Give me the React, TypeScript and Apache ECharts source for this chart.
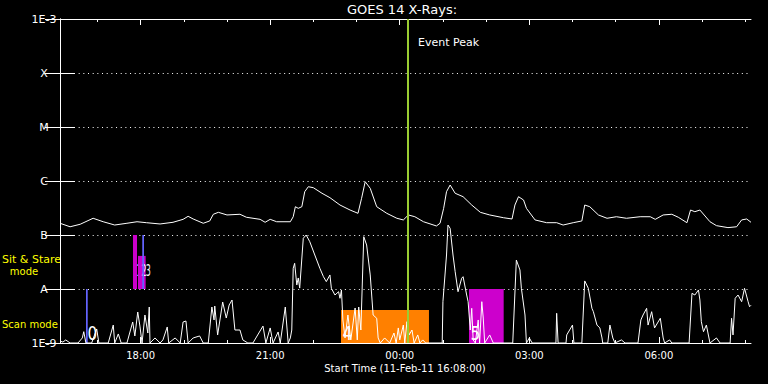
import React, { useEffect, useRef } from "react";
import * as echarts from "echarts";

// Start time 11-Feb-11 16:08:00, x values are minutes after start
const START_MIN_OF_DAY = 16 * 60 + 8;
const SPAN_MIN = 960;

const hourTicks = [52, 112, 172, 232, 292, 352, 412, 472, 532, 592, 652, 712, 772, 832, 892, 952];
const labelTicks = [112, 292, 472, 652, 832];
const fluxLevels = ["1E-9", "A", "B", "C", "M", "X", "1E-3"];

// GOES long channel (1-8 A)
const longChannel: [number, number][] = [
  [0, 1.65e-7], [14, 1.42e-7], [28, 1.58e-7], [46, 2.04e-7], [60, 1.76e-7], [76, 1.53e-7], [93, 1.65e-7],
  [107, 1.76e-7], [120, 1.69e-7], [139, 1.6e-7], [157, 1.72e-7], [171, 1.95e-7], [178, 2.22e-7], [185, 1.98e-7],
  [199, 1.65e-7], [208, 1.82e-7], [213, 2.42e-7], [220, 2.63e-7], [232, 2.35e-7], [250, 2.42e-7], [259, 2.13e-7],
  [278, 1.95e-7], [285, 1.72e-7], [292, 1.95e-7], [301, 1.76e-7], [320, 1.76e-7], [324, 2.18e-7], [327, 3.34e-7],
  [331, 3.12e-7], [336, 3.34e-7], [340, 6.34e-7], [345, 7.84e-7], [352, 7.51e-7], [364, 5.92e-7], [375, 4.91e-7],
  [389, 3.59e-7], [403, 2.9e-7], [414, 2.52e-7], [419, 4.78e-7], [424, 9.7e-7], [431, 7.32e-7], [440, 3.34e-7],
  [454, 2.52e-7], [468, 2.04e-7], [477, 1.9e-7], [484, 2.35e-7], [493, 2.18e-7], [505, 1.76e-7], [523, 1.47e-7],
  [528, 1.65e-7], [533, 3.12e-7], [537, 6.34e-7], [542, 8.43e-7], [549, 5.92e-7], [560, 5.12e-7], [572, 3.59e-7],
  [584, 2.63e-7], [597, 2.35e-7], [616, 2.09e-7], [628, 1.98e-7], [632, 3.59e-7], [637, 5.12e-7], [644, 4.45e-7],
  [648, 3.12e-7], [660, 1.9e-7], [676, 1.69e-7], [690, 1.69e-7], [699, 1.53e-7], [713, 1.69e-7], [725, 1.82e-7],
  [729, 3.59e-7], [736, 3.34e-7], [748, 2.35e-7], [760, 2.04e-7], [773, 2.18e-7], [787, 2.04e-7], [806, 2.18e-7],
  [820, 2.18e-7], [827, 1.95e-7], [838, 2.35e-7], [850, 2.42e-7], [859, 2.13e-7], [871, 1.69e-7], [876, 2.9e-7],
  [882, 2.7e-7], [889, 2.9e-7], [903, 1.76e-7], [912, 1.49e-7], [928, 1.37e-7], [940, 1.42e-7], [947, 1.9e-7],
  [954, 1.98e-7], [960, 1.72e-7],
];

// GOES short channel (0.5-4 A)
const shortChannel: [number, number][] = [
  [0, 1.09e-9], [4, 1.04e-9], [8, 1.14e-9], [14, 1e-9], [25, 1e-9], [31, 1.24e-9], [33, 1.62e-9], [36, 1e-9],
  [44, 1e-9], [51, 1.82e-9], [54, 1e-9], [67, 1e-9], [74, 2.15e-9], [76, 1e-9], [81, 1.47e-9], [85, 1e-9],
  [93, 1e-9], [101, 2.45e-9], [104, 1.35e-9], [108, 3.75e-9], [111, 2.06e-9], [114, 1e-9], [118, 3.3e-9],
  [122, 1.53e-9], [124, 4.64e-9], [125, 1e-9], [132, 1.24e-9], [139, 1e-9], [143, 1.14e-9], [149, 1.98e-9],
  [151, 1e-9], [160, 1.24e-9], [167, 1e-9], [171, 2.45e-9], [175, 2.55e-9], [178, 1e-9], [185, 1.24e-9],
  [194, 1.35e-9], [199, 1e-9], [206, 1e-9], [211, 4.64e-9], [214, 2.67e-9], [215, 4.84e-9], [219, 1.41e-9],
  [226, 5.74e-9], [231, 2.9e-9], [235, 5.05e-9], [239, 6.25e-9], [243, 1.74e-9], [250, 1.74e-9], [254, 1.14e-9],
  [261, 1e-9], [268, 1e-9], [282, 2.06e-9], [286, 1e-9], [292, 1.9e-9], [296, 1e-9], [303, 1.6e-9], [306, 1e-9],
  [313, 4.64e-9], [317, 1e-9], [320, 1.24e-9], [322, 1.74e-9], [324, 2.42e-8], [326, 2.99e-8], [329, 1.19e-8],
  [331, 1.6e-8], [333, 1.04e-8], [338, 8.69e-8], [342, 1e-7], [347, 7.52e-8], [354, 4.26e-8], [361, 2.42e-8],
  [366, 1.69e-8], [370, 1.37e-8], [375, 1.82e-8], [377, 1.03e-8], [382, 7.74e-9], [387, 8.91e-9], [389, 6.73e-9],
  [391, 9.58e-9], [393, 2.67e-9], [396, 1.24e-9], [400, 3.3e-9], [404, 1.14e-9], [410, 4.45e-9], [413, 1.14e-9],
  [415, 4.64e-9], [418, 1.74e-9], [422, 9.3e-8], [426, 6.53e-8], [431, 1.82e-8], [435, 3.3e-9], [440, 2.87e-9],
  [442, 1.24e-9], [445, 1e-9], [451, 1.24e-9], [458, 1e-9], [464, 1.53e-9], [467, 1e-9], [470, 1.9e-9],
  [472, 1.14e-9], [477, 2.15e-9], [479, 1e-9], [482, 2.48e-9], [485, 1.41e-9], [489, 1.74e-9], [492, 1e-9],
  [497, 1.41e-9], [500, 1e-9], [504, 1.14e-9], [508, 1e-9], [531, 1e-9], [532, 5.82e-9], [537, 4.26e-8],
  [539, 1.53e-7], [542, 1.33e-7], [546, 4.26e-8], [549, 2.09e-8], [553, 8.91e-9], [558, 1.58e-8], [560, 1.69e-8],
  [565, 7.74e-9], [567, 5.82e-9], [570, 1.74e-9], [572, 4.39e-9], [574, 1.14e-9], [577, 1e-9], [581, 2.67e-9],
  [583, 1e-9], [586, 5.82e-9], [588, 2.9e-9], [590, 1e-9], [597, 1.41e-9], [602, 1e-9], [629, 1e-9],
  [634, 3.44e-8], [639, 2.25e-8], [641, 1.03e-8], [646, 3.3e-9], [648, 1e-9], [652, 1.24e-9], [656, 1e-9],
  [689, 1e-9], [690, 3.55e-9], [692, 1e-9], [703, 1e-9], [704, 1.41e-9], [708, 1.74e-9], [712, 2.15e-9],
  [714, 1e-9], [725, 1e-9], [729, 1.41e-8], [734, 1.03e-8], [739, 4.39e-9], [741, 3.8e-9], [746, 2.15e-9],
  [750, 1.9e-9], [753, 1.24e-9], [754, 1e-9], [761, 1e-9], [764, 2.15e-9], [768, 1.24e-9], [771, 1e-9],
  [780, 1.14e-9], [785, 1e-9], [803, 1e-9], [807, 2.67e-9], [810, 3.3e-9], [815, 4.39e-9], [817, 2.15e-9],
  [822, 3.8e-9], [826, 1.9e-9], [834, 2.87e-9], [838, 1.24e-9], [840, 1e-9], [847, 1.14e-9], [850, 1e-9],
  [874, 1e-9], [878, 8.32e-9], [882, 7.74e-9], [887, 9.58e-9], [889, 6.25e-9], [891, 2.48e-9], [894, 1.62e-9],
  [898, 2.15e-9], [903, 1e-9], [912, 1.24e-9], [917, 1e-9], [931, 1e-9], [933, 2.87e-9], [935, 1.41e-9],
  [938, 6.73e-9], [942, 7.74e-9], [947, 5.82e-9], [951, 1.03e-8], [956, 5.82e-9], [958, 4.7e-9], [960, 5e-9],
];

// Observation modes (start min, end min, low flux, high flux)
const modeStart = [36.1, 101.4, 108.4, 114.3, 390.4, 568.2];
const modeEnd = [38.5, 107.0, 119.0, 116.7, 512.6, 616.4];
const modeLow = [1e-9, 1e-8, 1e-8, 1e-8, 1e-9, 1e-9];
const modeHigh = [1e-8, 1e-7, 4.1e-8, 1e-7, 4.1e-9, 1e-8];
const modeLabels = ["0", "1", "2", "3", "4", "5"];
const modeColors = ["#6464ff", "#cc00cc", "#cc00cc", "#6464ff", "#ff8000", "#cc00cc"];

const eventPeak = 483;

const FONT = "DejaVu Sans";
const NARROW = "'Liberation Sans Narrow', 'DejaVu Sans Condensed', sans-serif";

function clock(m: number): string {
  const t = Math.round(START_MIN_OF_DAY + m);
  const hh = Math.floor(t / 60) % 24;
  const mm = t % 60;
  return String(hh).padStart(2, "0") + ":" + String(mm).padStart(2, "0");
}

export default function App() {
  const ref = useRef<HTMLDivElement>(null);

  useEffect(() => {
    if (!ref.current) return;
    const chart = echarts.init(ref.current, undefined, { renderer: "svg" });

    const xBase: any = {
      type: "value",
      min: 0,
      max: SPAN_MIN,
      splitLine: { show: false },
      axisLine: { show: true, lineStyle: { color: "#fff", width: 1 } },
    };
    const yBase: any = {
      type: "log",
      logBase: 10,
      min: 1e-9,
      max: 1e-3,
      splitNumber: 6,
      axisLine: { show: true, lineStyle: { color: "#fff", width: 1 } },
      axisTick: { show: true, inside: true, length: 15, lineStyle: { color: "#fff", width: 1 } },
      minorTick: { show: false },
    };

    const modeData = modeStart.map((s, i) => [s, modeEnd[i], modeLow[i], modeHigh[i]]);

    chart.setOption({
      animation: false,
      backgroundColor: "#000",
      grid: { left: 60, right: 17, top: 19, bottom: 41, containLabel: false },
      xAxis: [
        {
          ...xBase,
          position: "bottom",
          axisTick: { show: true, inside: true, length: 3, customValues: hourTicks, lineStyle: { color: "#fff" } },
          axisLabel: {
            show: true,
            customValues: labelTicks,
            formatter: (v: number) => clock(v),
            color: "#fff",
            fontFamily: FONT,
            fontSize: 10,
            margin: 7,
          },
        },
        {
          ...xBase,
          position: "top",
          axisTick: { show: true, inside: true, length: 3, customValues: hourTicks, lineStyle: { color: "#fff" } },
          axisLabel: { show: false },
        },
        {
          ...xBase,
          position: "bottom",
          axisLine: { show: false },
          axisTick: { show: true, inside: true, length: 6, customValues: labelTicks, lineStyle: { color: "#fff" } },
          axisLabel: { show: false },
        },
        {
          ...xBase,
          position: "top",
          axisLine: { show: false },
          axisTick: { show: true, inside: true, length: 6, customValues: labelTicks, lineStyle: { color: "#fff" } },
          axisLabel: { show: false },
        },
      ],
      yAxis: [
        {
          ...yBase,
          position: "left",
          axisLabel: {
            show: true,
            showMinLabel: true,
            showMaxLabel: true,
            color: "#ffffff",
            fontFamily: FONT,
            fontSize: 11,
            align: "center",
            margin: 16,
            formatter: (v: number) => {
              const e = Math.round(Math.log10(v));
              return fluxLevels[e + 9] ?? "";
            },
          },
          splitLine: { show: true, lineStyle: { color: "#fff", width: 1, type: [1, 3.67] } },
        },
        {
          ...yBase,
          position: "right",
          axisLabel: { show: false },
          splitLine: { show: false },
        },
      ],
      series: [
        {
          type: "custom",
          name: "modes",
          xAxisIndex: 0,
          yAxisIndex: 0,
          z: 1,
          silent: true,
          encode: { x: [0, 1], y: [2, 3] },
          data: modeData,
          renderItem: (params: any, api: any) => {
            const i = params.dataIndex;
            const p0 = api.coord([api.value(0), api.value(3)]);
            const p1 = api.coord([api.value(1), api.value(2)]);
            const w = Math.max(p1[0] - p0[0], 1.6);
            const sitStare = api.value(2) > 2e-9;
            return {
              type: "group",
              children: [
                {
                  type: "rect",
                  shape: { x: p0[0], y: p0[1], width: w, height: p1[1] - p0[1] },
                  style: { fill: modeColors[i] },
                },
                {
                  type: "text",
                  x: p0[0] + (sitStare ? 3.5 : 1.5),
                  y: p1[1] - (sitStare ? 11 : 0),
                  scaleX: sitStare ? 0.55 : 0.85,
                  style: {
                    text: modeLabels[i],
                    fill: "#fff",
                    font: (sitStare ? "16px " : "20px ") + NARROW,
                    align: "left",
                    verticalAlign: "bottom",
                  },
                },
              ],
            };
          },
        },
        {
          type: "line",
          name: "short",
          xAxisIndex: 0,
          yAxisIndex: 0,
          z: 2,
          data: shortChannel,
          showSymbol: false,
          symbol: "none",
          clip: true,
          silent: true,
          lineStyle: { color: "#fff", width: 1 },
        },
        {
          type: "line",
          name: "long",
          xAxisIndex: 0,
          yAxisIndex: 0,
          z: 3,
          data: longChannel,
          showSymbol: false,
          symbol: "none",
          clip: true,
          silent: true,
          lineStyle: { color: "#fff", width: 1 },
          markLine: {
            silent: true,
            symbol: "none",
            label: { show: false },
            lineStyle: { color: "#9acd32", width: 2, type: "solid" },
            data: [{ xAxis: eventPeak }],
          },
        },
      ],
      graphic: [
        {
          type: "text",
          x: 402,
          y: 9.5,
          style: {
            text: "GOES 14 X-Rays:",
            fill: "#fff",
            font: "13px 'DejaVu Sans'",
            align: "center",
            verticalAlign: "middle",
            textAlign: "center",
            textVerticalAlign: "middle",
          },
        },
        {
          type: "text",
          x: 418,
          y: 42.5,
          style: {
            text: "Event Peak",
            fill: "#fff",
            font: "11px 'DejaVu Sans'",
            align: "left",
            verticalAlign: "middle",
            textAlign: "left",
            textVerticalAlign: "middle",
          },
        },
        {
          type: "text",
          x: 405,
          y: 368,
          style: {
            text: "Start Time (11-Feb-11 16:08:00)",
            fill: "#fff",
            font: "10px 'DejaVu Sans'",
            align: "center",
            verticalAlign: "middle",
            textAlign: "center",
            textVerticalAlign: "middle",
          },
        },
        {
          type: "text",
          x: 2,
          y: 259,
          style: {
            text: "Sit & Stare",
            fill: "#ffff00",
            font: "11px 'DejaVu Sans'",
            align: "left",
            verticalAlign: "middle",
            textAlign: "left",
            textVerticalAlign: "middle",
          },
        },
        {
          type: "text",
          x: 24,
          y: 271,
          style: {
            text: "mode",
            fill: "#ffff00",
            font: "10px 'DejaVu Sans'",
            align: "center",
            verticalAlign: "middle",
            textAlign: "center",
            textVerticalAlign: "middle",
          },
        },
        {
          type: "text",
          x: 2,
          y: 324,
          style: {
            text: "Scan mode",
            fill: "#ffff00",
            font: "10px 'DejaVu Sans'",
            align: "left",
            verticalAlign: "middle",
            textAlign: "left",
            textVerticalAlign: "middle",
          },
        },
      ],
    });

    return () => chart.dispose();
  }, []);

  return (
    <div
      ref={ref}
      style={{ position: "fixed", left: 0, top: 0, width: 768, height: 384, background: "#000" }}
    />
  );
}
